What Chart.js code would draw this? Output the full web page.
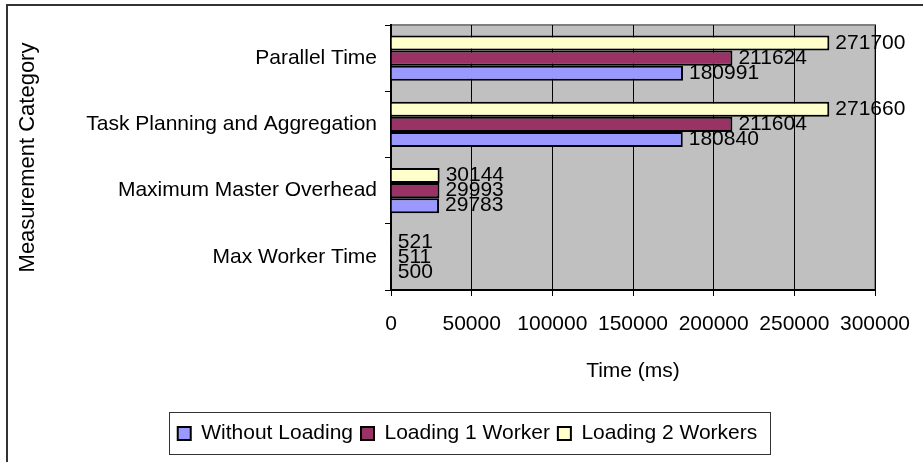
<!DOCTYPE html>
<html>
<head>
<meta charset="utf-8">
<script src="https://cdn.jsdelivr.net/npm/chart.js@4"></script>
<style>
  body { margin: 0; background: #fff; }
  #wrap { width: 923px; height: 462px; }
</style>
</head>
<body>
<div id="wrap"><canvas id="grafico" width="923" height="462"></canvas></div>
<script>
// categorias de arriba hacia abajo
const categorias = ["Parallel Time", "Task Planning and Aggregation", "Maximum Master Overhead", "Max Worker Time"];
const sinCarga = [180991, 180840, 29783, 500];
const carga1 = [211624, 211604, 29993, 511];
const carga2 = [271700, 271660, 30144, 521];
const ticksX = [0, 50000, 100000, 150000, 200000, 250000, 300000];

const fuente = "'Liberation Sans', Arial, sans-serif";

// fondo gris del area, marco exterior, recuadro de leyenda
const fondo = {
  id: "fondo",
  afterLayout(chart) {
    // correr la leyenda un poco a la derecha
    chart.legend.left += 30;
    chart.legend.right += 30;
  },
  beforeDraw(chart) {
    const ctx = chart.ctx;
    const a = chart.chartArea;
    ctx.save();
    ctx.strokeStyle = "#333";
    ctx.lineWidth = 2;
    ctx.strokeRect(7, 5, 940, 480);
    ctx.fillStyle = "#c0c0c0";
    ctx.fillRect(a.left, a.top, a.right - a.left, a.bottom - a.top);
    ctx.strokeStyle = "#808080";
    ctx.lineWidth = 2;
    ctx.strokeRect(a.left, a.top, a.right - a.left, a.bottom - a.top);
    ctx.restore();
  },
  afterDraw(chart) {
    const hb = chart.legend.legendHitBoxes;
    if (!hb || !hb.length) return;
    let izq = Math.min(...hb.map(h => h.left));
    let der = Math.max(...hb.map(h => h.left + h.width));
    let arriba = hb[0].top;
    let alto = hb[0].height;
    const ctx = chart.ctx;
    ctx.save();
    ctx.strokeStyle = "#333";
    ctx.lineWidth = 1;
    ctx.strokeRect(Math.round(izq) - 8.5, Math.round(arriba) - 10.5, Math.round(der - izq) + 21, alto + 21);
    ctx.restore();
  }
};

// etiquetas de valores al final de cada barra
const etiquetas = {
  id: "etiquetas",
  afterDatasetsDraw(chart) {
    const ctx = chart.ctx;
    ctx.save();
    ctx.font = "21px " + fuente;
    ctx.fillStyle = "#000";
    ctx.textAlign = "left";
    ctx.textBaseline = "middle";
    chart.data.datasets.forEach((ds, i) => {
      chart.getDatasetMeta(i).data.forEach((bar, j) => {
        ctx.fillText(String(ds.data[j]), bar.x + 6, bar.y);
      });
    });
    ctx.restore();
  }
};

const data = {
  labels: categorias,
  datasets: [
    { label: "Loading 2 Workers", data: carga2, backgroundColor: "#ffffcc", borderColor: "#000", borderWidth: 2 },
    { label: "Loading 1 Worker", data: carga1, backgroundColor: "#993366", borderColor: "#000", borderWidth: 2 },
    { label: "Without Loading", data: sinCarga, backgroundColor: "#9999ff", borderColor: "#000", borderWidth: 2 }
  ]
};

const config = {
  type: "bar",
  data,
  options: {
    indexAxis: "y",
    responsive: false,
    animation: false,
    categoryPercentage: 0.68,
    barPercentage: 1,
    layout: { padding: { top: 25, right: 48, left: 0, bottom: 8 } },
    plugins: {
      tooltip: { enabled: false },
      legend: {
        position: "bottom",
        reverse: true,
        labels: {
          font: { family: fuente, size: 21 },
          color: "#000",
          boxWidth: 13,
          boxHeight: 13,
          padding: 8
        }
      }
    },
    scales: {
      x: {
        min: 0,
        max: 300000,
        afterBuildTicks(scale) { scale.ticks = ticksX.map(v => ({ value: v })); },
        afterFit(scale) {
          scale.height = 125;
          scale.paddingLeft = 0;
          scale.paddingRight = 0;
        },
        ticks: { font: { family: fuente, size: 21 }, color: "#000", padding: 16, maxRotation: 0, callback: v => String(v) },
        grid: { color: "#000", lineWidth: 1, tickLength: 6, drawOnChartArea: true },
        border: { color: "#000", width: 2 },
        title: { display: true, text: "Time (ms)", font: { family: fuente, size: 21 }, color: "#000", padding: { top: 0, bottom: 31 } }
      },
      y: {
        afterFit(scale) { scale.width = 391; },
        ticks: { font: { family: fuente, size: 21 }, color: "#000", padding: 8 },
        grid: { color: "#000", drawOnChartArea: false, tickLength: 6, offset: true },
        border: { color: "#000", width: 2 },
        title: { display: true, text: "Measurement Category", font: { family: fuente, size: 22 }, color: "#000", padding: { top: 15, bottom: 0 } }
      }
    }
  },
  plugins: [fondo, etiquetas]
};

new Chart(document.getElementById("grafico"), config);
</script>
</body>
</html>
